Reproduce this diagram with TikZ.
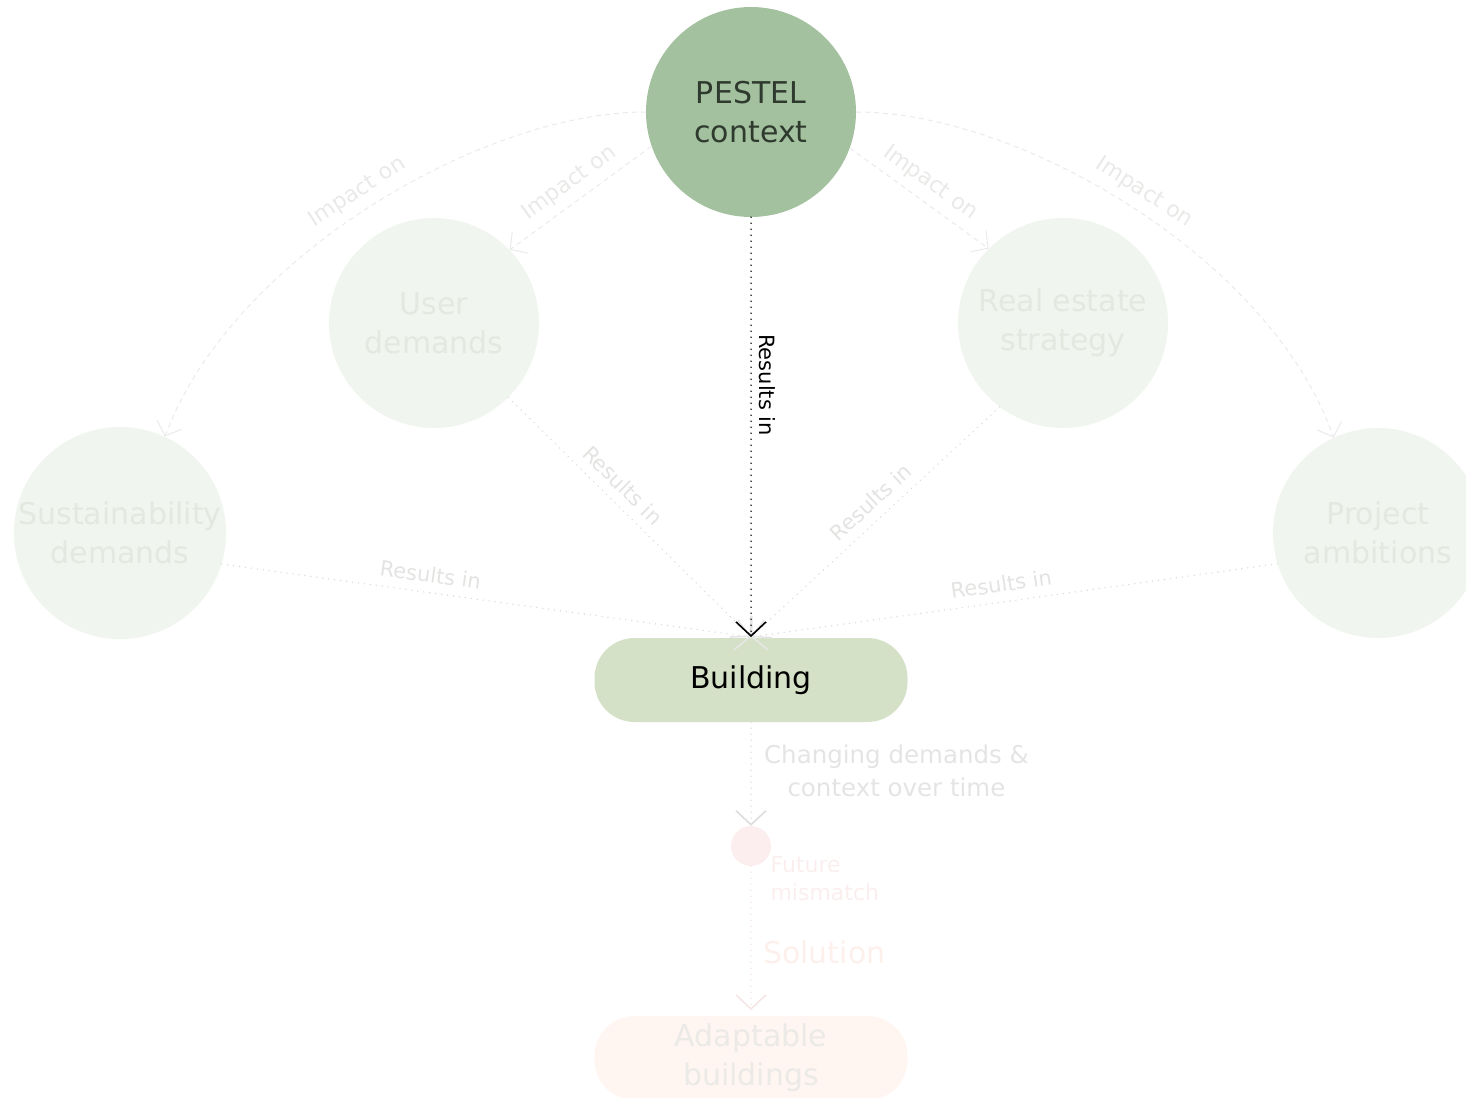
\documentclass[tikz,border=0pt]{standalone}
\usepackage{fontspec}
\setmainfont{DejaVu Sans}
\usetikzlibrary{arrows.meta,calc}

\definecolor{pestelfill}{HTML}{A3C19E}
\definecolor{pesteltext}{HTML}{2E3A2E}
\definecolor{buildfill}{HTML}{D5E1C6}
\definecolor{paleFill}{HTML}{F1F5EF}
\definecolor{paleText}{HTML}{E3E8E1}
\definecolor{impactLine}{HTML}{EAEAEA}
\definecolor{impactText}{HTML}{E8EAE7}
\definecolor{resultLine}{HTML}{DCDCDC}
\definecolor{resultTip}{HTML}{E6E6E6}
\definecolor{resultText}{HTML}{E2E4E1}
\definecolor{changeLine}{HTML}{DDDDDD}
\definecolor{changeText}{HTML}{E4E4E4}
\definecolor{mismatchFill}{HTML}{FCEEEE}
\definecolor{mismatchText}{HTML}{FBEEEE}
\definecolor{solutionLine}{HTML}{F4E6E4}
\definecolor{solutionText}{HTML}{FDF0EC}
\definecolor{adaptFill}{HTML}{FFF5F1}
\definecolor{adaptText}{HTML}{ECEAE7}

\tikzset{
  bigcircle/.style={circle, minimum size=210pt, inner sep=0pt, align=center,
    font=\fontsize{30}{39}\selectfont},
  pale/.style={bigcircle, fill=paleFill, text=paleText},
  pill/.style={rectangle, rounded corners=40pt, minimum width=313pt,
    minimum height=84pt, inner sep=0pt, align=center,
    font=\fontsize{30}{39}\selectfont},
  vtip/.style={-{Straight Barb[length=14pt, width=30pt, line width=1.6pt]}},
  thintip/.style={-{Straight Barb[length=12pt, width=26pt, line width=1pt]}},
  impact/.style={draw=impactLine, line width=1pt, dash pattern=on 5pt off 4pt, thintip},
  impactlabel/.style={text=impactText, font=\fontsize{22}{24}\selectfont, sloped, above,
    inner sep=8pt},
  result/.style={draw=resultLine, line width=1.6pt, line cap=round,
    dash pattern=on 0pt off 6pt},
  resultlabel/.style={text=resultText, font=\fontsize{21}{24}\selectfont, sloped, above,
    inner sep=9pt},
}

\begin{document}
\begin{tikzpicture}[x=1pt, y=-1pt]
\useasboundingbox (0,0) rectangle (1466,1097);
\clip (0,0) rectangle (1466,1097);

% context and the four influences
\node[bigcircle, fill=pestelfill, text=pesteltext] (pestel) at (751,112) {PESTEL\\context};
\node[pale] (user) at (434,323) {User\\demands};
\node[pale] (estate) at (1063,323) {Real estate\\strategy};
\node[pale] (sustain) at (120,533) {Sustainability\\demands};
\node[pale] (project) at (1378,533) {Project\\ambitions};

% building and the later stages
\node[pill, fill=buildfill, text=black] (building) at (751,680) {Building};
\node[circle, fill=mismatchFill, minimum size=40pt, inner sep=0pt] (mismatch) at (751,846) {};
\node[anchor=north west, align=left, text=mismatchText,
  font=\fontsize{22}{28}\selectfont] (mmlabel) at (767,853) {Future\\mismatch};
\node[pill, fill=adaptFill, text=adaptText] (adapt) at (751,1058) {Adaptable\\buildings};

\coordinate (bTop) at (751,637);
\coordinate (aTop) at (751,1010);

% impact arrows
\draw[impact] (pestel.180) .. controls (480,112) and (230,260) ..
  node[impactlabel, pos=0.5] {Impact on} (sustain.65);
\draw[impact] (pestel.0) .. controls (1022,112) and (1272,260) ..
  node[impactlabel, pos=0.5] {Impact on} (project.115);
\draw[impact] (pestel.199) -- node[impactlabel, pos=0.5] {Impact on} (user.44);
\draw[impact] (pestel.340) -- node[impactlabel, pos=0.5] {Impact on} (estate.135);

% results-in links towards the building
\draw[result] (user.315) -- node[resultlabel, pos=0.42] {Results in} (bTop);
\draw[result] (estate.233) -- node[resultlabel, pos=0.47] {Results in} (bTop);
\draw[result] (sustain.343) -- node[resultlabel, pos=0.39] {Results in} (bTop);
\draw[result] (project.197) -- node[resultlabel, pos=0.52] {Results in} (bTop);
\foreach \src/\ang in {user/315, estate/233, sustain/343, project/197}
  \draw[resultTip, line width=1.4pt, vtip] ($(bTop)!3pt!(\src.\ang)$) -- (bTop);
\draw[black, line width=1.6pt, line cap=round, dash pattern=on 0pt off 6pt]
  (pestel.south) -- node[pos=0.4, rotate=-90, anchor=south, inner sep=7pt,
  font=\fontsize{21}{24}\selectfont] {Results in} (bTop);
\draw[black, line width=1.6pt, vtip] ([yshift=2pt]bTop) -- (bTop);

% over time
\draw[changeLine, line width=1.6pt, line cap=round, dash pattern=on 0pt off 6pt]
  (building.south) -- node[right, xshift=9pt, pos=0.47, text=changeText,
  font=\fontsize{24.5}{33}\selectfont, align=center] {Changing demands \&\\context over time}
  (mismatch.north);
\draw[changeLine, line width=1.4pt, vtip] ([yshift=2pt]mismatch.north) -- (mismatch.north);

\draw[solutionLine, line width=1.6pt, line cap=round, dash pattern=on 0pt off 6pt]
  (mismatch.south) -- node[right, xshift=8pt, pos=0.60, text=solutionText,
  font=\fontsize{30}{36}\selectfont] {Solution} (aTop);
\draw[solutionLine, line width=1.4pt, vtip] ([yshift=2pt]aTop) -- (aTop);
\end{tikzpicture}
\end{document}
